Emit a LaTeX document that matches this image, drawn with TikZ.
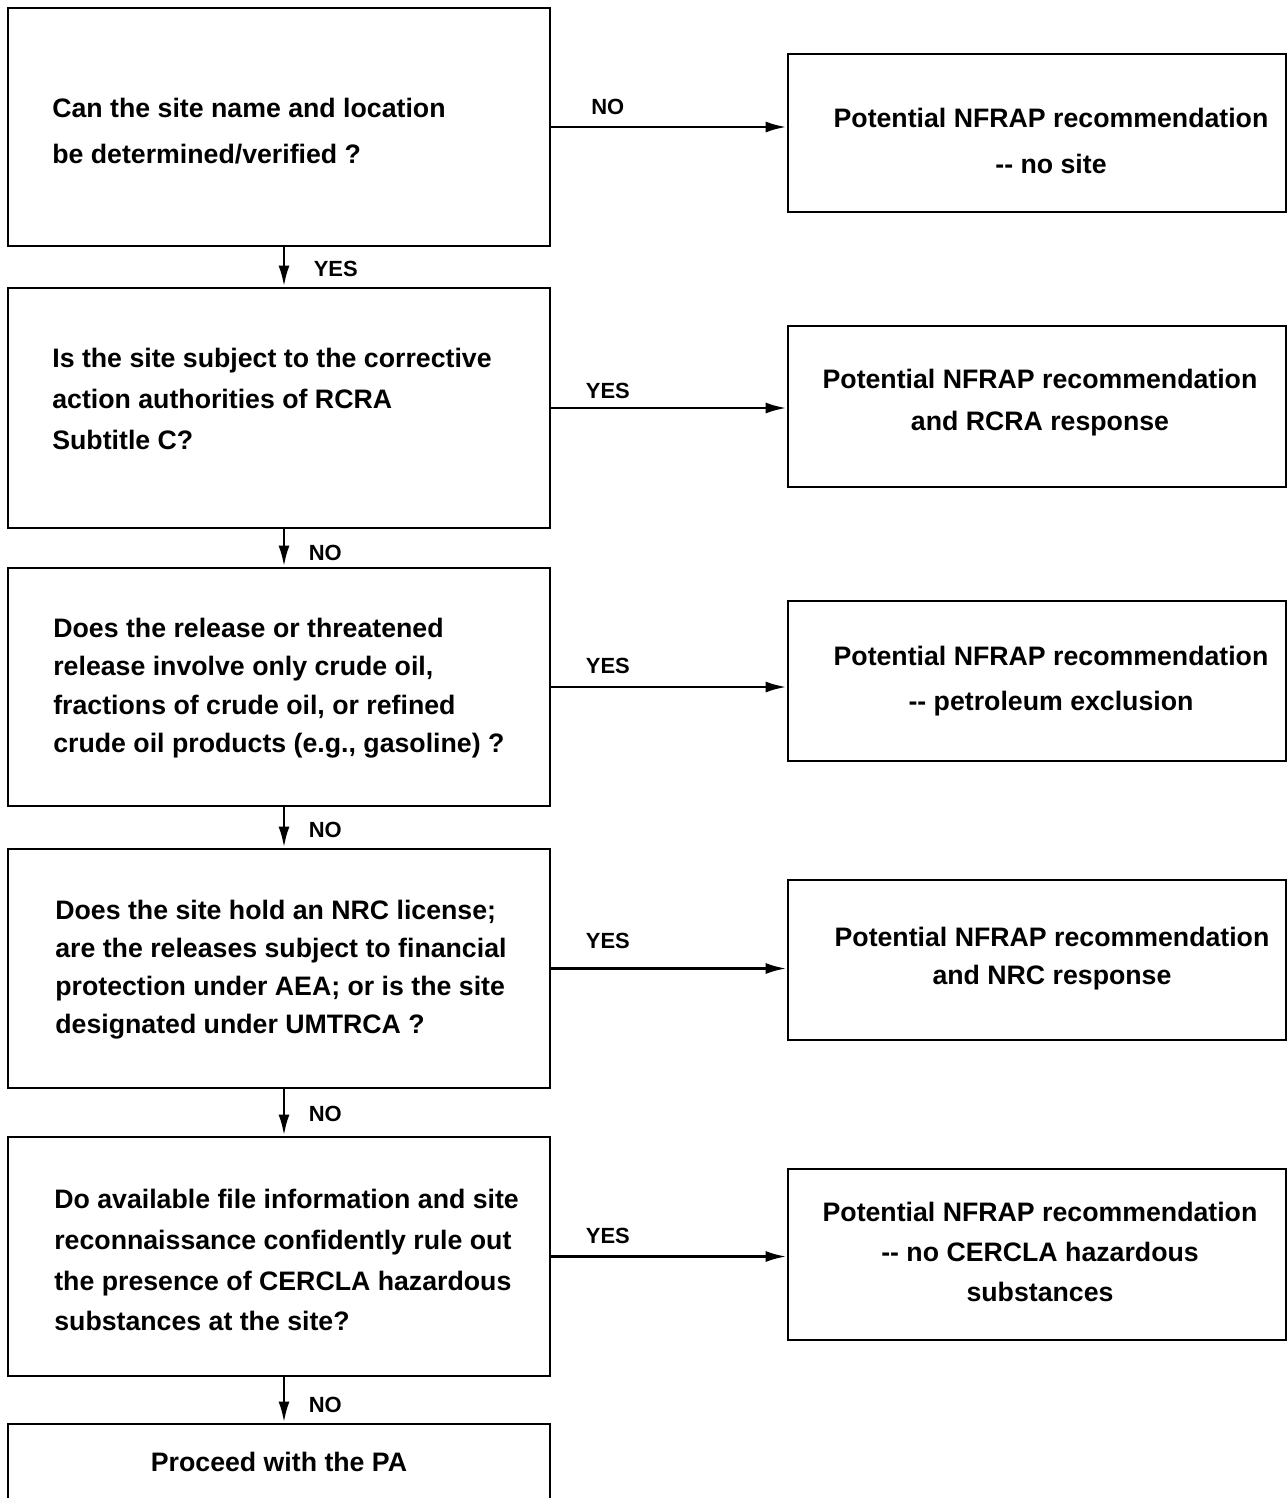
\documentclass[tikz,border=0pt]{standalone}
\usepackage{fontspec}
\setmainfont{Liberation Sans}
\usetikzlibrary{arrows.meta}

\tikzset{
  qbox/.style={draw, line width=1.6pt, minimum width=10.84cm},
  qtext/.style={anchor=west, inner sep=0pt, align=left},
  ansbox/.style={draw, line width=1.6pt, minimum width=9.96cm},
  anstext/.style={align=center, inner sep=0pt},
  flow/.style={line width=1.6pt, -{Latex[length=0.42cm,width=0.22cm]}},
  lab/.style={font=\fontsize{12.5}{12.5}\selectfont\bfseries}
}
\newcommand{\ff}[1]{\fontsize{15.2}{#1}\selectfont\bfseries}

\begin{document}
\begin{tikzpicture}[x=0.02cm,y=-0.02cm]
  \useasboundingbox (0,0) rectangle (1288,1498);

  % questions
  \node[qbox, minimum height=4.76cm] (q1) at (279,127) {};
  \node[qbox, minimum height=4.8cm] (q2) at (279,408) {};
  \node[qbox, minimum height=4.76cm] (q3) at (279,687) {};
  \node[qbox, minimum height=4.78cm] (q4) at (279,968.5) {};
  \node[qbox, minimum height=4.78cm] (q5) at (279,1256.5) {};
  \node[qbox, minimum height=1.52cm, font=\ff{18}] (pa) at (279,1462) {Proceed with the PA};

  \node[qtext, font=\ff{26.5}] (s1) at (52,131)
    {Can the site name and location\\be determined/verified ?};
  \node[qtext, font=\ff{23.3}] (s2) at (52,399)
    {Is the site subject to the corrective\\action authorities of RCRA\\Subtitle C?};
  \node[qtext, font=\ff{21.9}] (s3) at (53,688)
    {Does the release or threatened\\release involve only crude oil,\\fractions of crude oil, or refined\\crude oil products (e.g., gasoline) ?};
  \node[qtext, font=\ff{21.6}] (s4) at (55,970)
    {Does the site hold an NRC license;\\are the releases subject to financial\\protection under AEA; or is the site\\designated under UMTRCA ?};
  \node[qtext, font=\ff{23.3}] (s5) at (54,1260)
    {Do available file information and site\\reconnaissance confidently rule out\\the presence of CERCLA hazardous\\substances at the site?};

  % outcomes
  \node[ansbox, minimum height=3.16cm] (r1) at (1037,133) {};
  \node[ansbox, minimum height=3.22cm] (r2) at (1037,406.5) {};
  \node[ansbox, minimum height=3.2cm] (r3) at (1037,681) {};
  \node[ansbox, minimum height=3.2cm] (r4) at (1037,960) {};
  \node[ansbox, minimum height=3.42cm] (r5) at (1037,1254.5) {};
  \node[anstext, font=\ff{26.5}] (t1) at (1051,141)
    {Potential NFRAP recommendation\\-{}- no site};
  \node[anstext, font=\ff{24}] (t2) at (1040,403)
    {Potential NFRAP recommendation\\and RCRA response};
  \node[anstext, font=\ff{26}] (t3) at (1051,681)
    {Potential NFRAP recommendation\\-{}- petroleum exclusion};
  \node[anstext, font=\ff{21.6}] (t4) at (1052,959)
    {Potential NFRAP recommendation\\and NRC response};
  \node[anstext, font=\ff{22.8}] (t5) at (1040,1252)
    {Potential NFRAP recommendation\\-{}- no CERCLA hazardous\\substances};

  % branches to the right
  \draw[flow] (q1.east) -- node[lab, pos=0.24, above=0.1cm] {NO} (q1.east -| r1.west);
  \draw[flow] (q2.east) -- node[lab, pos=0.24, above=0.04cm] {YES} (q2.east -| r2.west);
  \draw[flow] (q3.east) -- node[lab, pos=0.24, above=0.12cm] {YES} (q3.east -| r3.west);
  \draw[flow] (q4.east) -- node[lab, pos=0.24, above=0.26cm] {YES} (q4.east -| r4.west);
  \draw[flow] (q5.east) -- node[lab, pos=0.24, above=0.12cm] {YES} (q5.east -| r5.west);

  % downward path
  \draw[flow] ([xshift=0.1cm]q1.south) -- node[lab, pos=0.56, right=0.45cm] {YES} ([xshift=0.1cm]q2.north);
  \draw[flow] ([xshift=0.1cm]q2.south) -- node[lab, pos=0.62, right=0.35cm] {NO} ([xshift=0.1cm]q3.north);
  \draw[flow] ([xshift=0.1cm]q3.south) -- node[lab, pos=0.56, right=0.35cm] {NO} ([xshift=0.1cm]q4.north);
  \draw[flow] ([xshift=0.1cm]q4.south) -- node[lab, pos=0.52, right=0.35cm] {NO} ([xshift=0.1cm]q5.north);
  \draw[flow] ([xshift=0.1cm]q5.south) -- node[lab, pos=0.62, right=0.35cm] {NO} ([xshift=0.1cm]pa.north);
\end{tikzpicture}
\end{document}
